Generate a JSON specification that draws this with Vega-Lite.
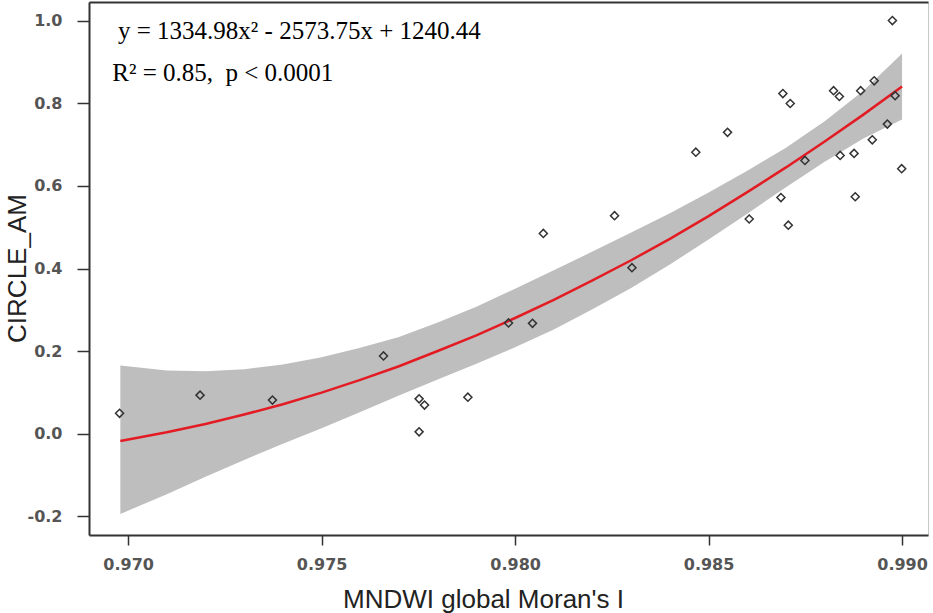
{
  "$schema": "https://vega.github.io/schema/vega-lite/v6.json",
  "width": 839,
  "height": 533,
  "autosize": {"type": "none"},
  "padding": {"left": 89, "top": 2, "right": 5, "bottom": 78},
  "background": "white",
  "datasets": {
    "pts": [
      {"moran": 0.96978, "circle": 0.049},
      {"moran": 0.97186, "circle": 0.093},
      {"moran": 0.97373, "circle": 0.081},
      {"moran": 0.97660, "circle": 0.188},
      {"moran": 0.97752, "circle": 0.084},
      {"moran": 0.97766, "circle": 0.069},
      {"moran": 0.97752, "circle": 0.004},
      {"moran": 0.97878, "circle": 0.088},
      {"moran": 0.97983, "circle": 0.268},
      {"moran": 0.98045, "circle": 0.267},
      {"moran": 0.98073, "circle": 0.485},
      {"moran": 0.98257, "circle": 0.528},
      {"moran": 0.98302, "circle": 0.402},
      {"moran": 0.98467, "circle": 0.682},
      {"moran": 0.98549, "circle": 0.730},
      {"moran": 0.98605, "circle": 0.520},
      {"moran": 0.98687, "circle": 0.572},
      {"moran": 0.98692, "circle": 0.824},
      {"moran": 0.98706, "circle": 0.505},
      {"moran": 0.98711, "circle": 0.800},
      {"moran": 0.98749, "circle": 0.662},
      {"moran": 0.98823, "circle": 0.831},
      {"moran": 0.98838, "circle": 0.817},
      {"moran": 0.98840, "circle": 0.674},
      {"moran": 0.98876, "circle": 0.679},
      {"moran": 0.98879, "circle": 0.574},
      {"moran": 0.98893, "circle": 0.831},
      {"moran": 0.98923, "circle": 0.712},
      {"moran": 0.98928, "circle": 0.855},
      {"moran": 0.98962, "circle": 0.750},
      {"moran": 0.98975, "circle": 1.001},
      {"moran": 0.98982, "circle": 0.819},
      {"moran": 0.98999, "circle": 0.642}
    ],
    "fit": [
      {"moran": 0.9698, "fit": -0.018, "lo": -0.195, "hi": 0.165},
      {"moran": 0.971, "fit": 0.003, "lo": -0.147, "hi": 0.153},
      {"moran": 0.972, "fit": 0.023, "lo": -0.105, "hi": 0.151},
      {"moran": 0.973, "fit": 0.046, "lo": -0.064, "hi": 0.156},
      {"moran": 0.974, "fit": 0.071, "lo": -0.025, "hi": 0.167},
      {"moran": 0.975, "fit": 0.099, "lo": 0.013, "hi": 0.185},
      {"moran": 0.976, "fit": 0.130, "lo": 0.052, "hi": 0.208},
      {"moran": 0.977, "fit": 0.163, "lo": 0.092, "hi": 0.234},
      {"moran": 0.978, "fit": 0.200, "lo": 0.131, "hi": 0.269},
      {"moran": 0.979, "fit": 0.238, "lo": 0.169, "hi": 0.307},
      {"moran": 0.980, "fit": 0.280, "lo": 0.209, "hi": 0.351},
      {"moran": 0.981, "fit": 0.324, "lo": 0.252, "hi": 0.396},
      {"moran": 0.982, "fit": 0.371, "lo": 0.301, "hi": 0.441},
      {"moran": 0.983, "fit": 0.420, "lo": 0.353, "hi": 0.487},
      {"moran": 0.984, "fit": 0.472, "lo": 0.410, "hi": 0.534},
      {"moran": 0.985, "fit": 0.527, "lo": 0.470, "hi": 0.584},
      {"moran": 0.986, "fit": 0.585, "lo": 0.533, "hi": 0.637},
      {"moran": 0.987, "fit": 0.645, "lo": 0.597, "hi": 0.693},
      {"moran": 0.988, "fit": 0.708, "lo": 0.659, "hi": 0.757},
      {"moran": 0.989, "fit": 0.773, "lo": 0.715, "hi": 0.831},
      {"moran": 0.990, "fit": 0.841, "lo": 0.761, "hi": 0.921}
    ],
    "notes": [
      {"moran": 0.96974, "circle": 0.956, "label": "y = 1334.98x² - 2573.75x + 1240.44"},
      {"moran": 0.96959, "circle": 0.854, "label": "R² = 0.85,\u00a0 p < 0.0001"}
    ]
  },
  "layer": [
    {
      "data": {"name": "fit"},
      "mark": {"type": "area", "color": "#bebebe", "opacity": 1},
      "encoding": {
        "x": {
          "field": "moran",
          "type": "quantitative",
          "scale": {"domain": [0.96899, 0.99067], "nice": false, "zero": false},
          "axis": {
            "orient": "bottom",
            "title": "MNDWI global Moran's I",
            "values": [0.970, 0.975, 0.980, 0.985, 0.990],
            "format": ".3f",
            "grid": false,
            "tickSize": 10,
            "labelPadding": 11,
            "titleX": 394,
            "titleY": 72,
            "titleAlign": "center",
            "titleBaseline": "alphabetic"
          }
        },
        "y": {
          "field": "lo",
          "type": "quantitative",
          "scale": {"domain": [-0.246, 1.046], "nice": false, "zero": false},
          "axis": {
            "title": "CIRCLE_AM",
            "values": [-0.2, 0, 0.2, 0.4, 0.6, 0.8, 1.0],
            "format": ".1f",
            "labelExpr": "replace(datum.label, '\u2212', '-')",
            "grid": false,
            "tickSize": 12,
            "labelPadding": 15,
            "titleX": -64,
            "titleY": 266,
            "titleAlign": "center",
            "titleBaseline": "alphabetic",
            "titleFontSize": 26
          }
        },
        "y2": {"field": "hi"}
      }
    },
    {
      "data": {"name": "fit"},
      "mark": {"type": "line", "color": "#e31b23", "strokeWidth": 2.5},
      "encoding": {
        "x": {"field": "moran", "type": "quantitative", "axis": null},
        "y": {"field": "fit", "type": "quantitative", "title": "CIRCLE_AM"}
      }
    },
    {
      "data": {"name": "pts"},
      "mark": {"type": "point", "shape": "diamond", "filled": false, "size": 65, "stroke": "#333333", "strokeWidth": 1.5, "opacity": 1},
      "encoding": {
        "x": {"field": "moran", "type": "quantitative", "axis": null},
        "y": {"field": "circle", "type": "quantitative", "title": "CIRCLE_AM"}
      }
    },
    {
      "data": {"name": "notes"},
      "mark": {"type": "text", "align": "left", "baseline": "alphabetic", "font": "Liberation Serif", "fontSize": 25, "color": "black"},
      "encoding": {
        "x": {
          "field": "moran",
          "type": "quantitative",
          "axis": {"orient": "top", "title": null, "labels": false, "ticks": false, "grid": false, "domain": true}
        },
        "y": {"field": "circle", "type": "quantitative", "title": "CIRCLE_AM"},
        "text": {"field": "label"}
      }
    }
  ],
  "resolve": {"axis": {"x": "independent"}},
  "config": {
    "view": {"stroke": "#c8c8c8", "strokeWidth": 1},
    "axis": {
      "labelFont": "DejaVu Sans",
      "labelFontSize": 16,
      "labelFontWeight": "bold",
      "labelColor": "#555555",
      "titleFont": "Liberation Sans",
      "titleFontSize": 26,
      "titleFontWeight": "normal",
      "titleColor": "#222222",
      "domainColor": "#333333",
      "domainWidth": 2,
      "tickColor": "#333333",
      "tickWidth": 1.5
    }
  }
}
